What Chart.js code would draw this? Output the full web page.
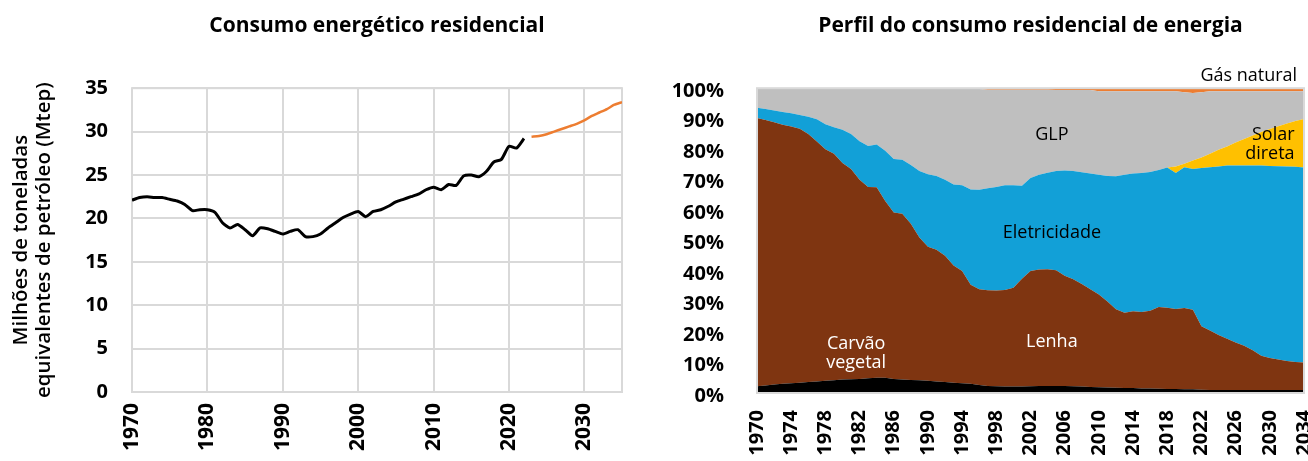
<!DOCTYPE html>
<html>
<head>
<meta charset="utf-8">
<script src="https://cdn.jsdelivr.net/npm/chart.js@4.4.1/dist/chart.umd.min.js"></script>
<style>
  html, body { margin: 0; padding: 0; background: #fff; }
  #wrap { position: relative; width: 1308px; height: 461px; }
  .box { position: absolute; top: 0; height: 461px; }
  #left { left: 0; width: 650px; }
  #right { left: 650px; width: 658px; }
</style>
</head>
<body>
<div id="wrap">
  <div class="box" id="left"><canvas id="consumo" width="650" height="461"></canvas></div>
  <div class="box" id="right"><canvas id="perfil" width="658" height="461"></canvas></div>
</div>
<script>
// Consumo energético residencial (Mtep)
var histYears = [1970, 1971, 1972, 1973, 1974, 1975, 1976, 1977, 1978, 1979,
  1980, 1981, 1982, 1983, 1984, 1985, 1986, 1987, 1988, 1989,
  1990, 1991, 1992, 1993, 1994, 1995, 1996, 1997, 1998, 1999,
  2000, 2001, 2002, 2003, 2004, 2005, 2006, 2007, 2008, 2009,
  2010, 2011, 2012, 2013, 2014, 2015, 2016, 2017, 2018, 2019,
  2020, 2021, 2022];
var histMtep = [22.1, 22.4, 22.5, 22.4, 22.4, 22.2, 22.0, 21.6, 20.9, 21.0,
  21.0, 20.7, 19.5, 18.9, 19.3, 18.7, 18.0, 18.9, 18.8, 18.5,
  18.2, 18.5, 18.7, 17.9, 17.9, 18.2, 18.9, 19.5, 20.1, 20.5,
  20.8, 20.2, 20.8, 21.0, 21.4, 21.9, 22.2, 22.5, 22.8, 23.3,
  23.6, 23.3, 23.9, 23.8, 24.9, 25.0, 24.8, 25.4, 26.5, 26.8,
  28.3, 28.1, 29.2];
var projYears = [2023, 2024, 2025, 2026, 2027, 2028, 2029, 2030, 2031, 2032, 2033, 2034, 2035];
var projMtep = [29.4, 29.5, 29.7, 30.0, 30.3, 30.6, 30.9, 31.3, 31.8, 32.2, 32.6, 33.1, 33.4];

// Perfil do consumo residencial de energia (% do total)
var perfilYears = [1970, 1971, 1972, 1973, 1974, 1975, 1976, 1977, 1978, 1979,
  1980, 1981, 1982, 1983, 1984, 1985, 1986, 1987, 1988, 1989,
  1990, 1991, 1992, 1993, 1994, 1995, 1996, 1997, 1998, 1999,
  2000, 2001, 2002, 2003, 2004, 2005, 2006, 2007, 2008, 2009,
  2010, 2011, 2012, 2013, 2014, 2015, 2016, 2017, 2018, 2019,
  2020, 2021, 2022, 2023, 2024, 2025, 2026, 2027, 2028, 2029,
  2030, 2031, 2032, 2033, 2034];
var carvaoVegetal = [2.2, 2.5, 2.8, 3.0, 3.2, 3.4, 3.6, 3.8, 4.0, 4.2,
  4.4, 4.5, 4.6, 4.8, 5.0, 5.0, 4.6, 4.4, 4.3, 4.2,
  4.0, 3.8, 3.6, 3.4, 3.2, 3.0, 2.6, 2.3, 2.2, 2.1,
  2.1, 2.1, 2.2, 2.3, 2.3, 2.3, 2.3, 2.2, 2.1, 2.0,
  1.9, 1.8, 1.7, 1.6, 1.6, 1.5, 1.5, 1.4, 1.3, 1.3,
  1.2, 1.2, 1.1, 1.0, 1.0, 1.0, 1.0, 1.0, 1.0, 1.0,
  1.0, 1.0, 1.0, 1.0, 1.0];
var lenha = [88.0, 87.1, 86.0, 85.0, 84.2, 83.3, 81.4, 78.7, 76.0, 74.3,
  71.1, 69.0, 65.4, 62.8, 62.5, 58.0, 54.6, 54.4, 51.2, 46.8,
  44.0, 43.2, 41.4, 38.4, 36.8, 32.5, 31.4, 31.4, 31.4, 31.7,
  32.4, 35.4, 37.8, 38.2, 38.3, 38.0, 36.2, 35.1, 33.7, 32.0,
  30.4, 28.2, 25.8, 24.7, 25.2, 25.1, 25.5, 26.8, 26.7, 26.3,
  26.7, 26.1, 20.8, 19.5, 18.0, 16.8, 15.6, 14.5, 13.0, 11.2,
  10.5, 10.0, 9.5, 9.2, 9.0];
var eletricidade = [3.4, 3.6, 3.9, 4.2, 4.4, 4.5, 5.6, 7.3, 8.2, 8.7,
  10.9, 11.5, 12.6, 13.4, 14.0, 16.5, 17.6, 17.7, 19.3, 21.8,
  23.8, 24.2, 25.0, 26.6, 28.2, 31.3, 32.7, 33.5, 34.0, 34.4,
  33.7, 30.5, 30.5, 31.1, 31.7, 32.5, 34.5, 35.5, 36.6, 38.0,
  39.3, 41.2, 43.6, 45.3, 45.2, 45.6, 45.5, 45.0, 46.0, 44.6,
  46.2, 46.2, 51.9, 53.6, 55.3, 56.8, 58.0, 59.1, 60.6, 62.4,
  63.0, 63.4, 63.8, 64.0, 64.0];
var solarDireta = [0, 0, 0, 0, 0, 0, 0, 0, 0, 0,
  0, 0, 0, 0, 0, 0, 0, 0, 0, 0,
  0, 0, 0, 0, 0, 0, 0, 0, 0, 0,
  0, 0, 0, 0, 0, 0, 0, 0, 0, 0,
  0, 0, 0, 0, 0, 0, 0, 0, 0, 2.1,
  1.1, 2.8, 3.5, 4.4, 5.5, 6.3, 7.6, 8.7, 9.9, 11.0,
  12.1, 13.1, 14.1, 15.0, 15.9];
var glp = [6.4, 6.8, 7.3, 7.8, 8.2, 8.8, 9.4, 10.2, 11.8, 12.8,
  13.6, 15.0, 17.4, 19.0, 18.5, 20.5, 23.2, 23.5, 25.2, 27.2,
  28.2, 28.8, 30.0, 31.6, 31.8, 33.2, 33.0, 32.3, 31.9, 31.3,
  31.3, 31.5, 29.0, 27.9, 27.2, 26.6, 26.4, 26.6, 27.0, 27.4,
  27.4, 27.8, 27.9, 27.4, 27.0, 26.8, 26.5, 25.8, 25.0, 24.7,
  23.5, 22.1, 21.4, 20.5, 19.2, 18.1, 16.8, 15.7, 14.5, 13.4,
  12.4, 11.5, 10.6, 9.8, 9.1];
var gasNatural = [0, 0, 0, 0, 0, 0, 0, 0, 0, 0,
  0, 0, 0, 0, 0, 0, 0, 0, 0, 0,
  0, 0, 0, 0, 0, 0, 0.3, 0.5, 0.5, 0.5,
  0.5, 0.5, 0.5, 0.5, 0.5, 0.6, 0.6, 0.6, 0.6, 0.6,
  1.0, 1.0, 1.0, 1.0, 1.0, 1.0, 1.0, 1.0, 1.0, 1.0,
  1.3, 1.6, 1.3, 1.0, 1.0, 1.0, 1.0, 1.0, 1.0, 1.0,
  1.0, 1.0, 1.0, 1.0, 1.0];

var FONT = "'Open Sans', 'Noto Sans', sans-serif";
var GRID = '#d9d9d9';

function points(xs, ys) {
  return xs.map(function (x, i) { return { x: x, y: ys[i] }; });
}

// moldura cinza em volta da área do gráfico
var plotBorder = {
  id: 'plotBorder',
  beforeDatasetsDraw: function (chart, args, opts) {
    if (opts.after) return;
    drawFrame(chart, opts);
  },
  afterDatasetsDraw: function (chart, args, opts) {
    if (!opts.after) return;
    drawFrame(chart, opts);
  }
};
function drawFrame(chart, opts) {
  var a = chart.chartArea, ctx = chart.ctx;
  ctx.save();
  ctx.strokeStyle = opts.color || GRID;
  ctx.lineWidth = opts.width || 2;
  ctx.strokeRect(a.left, a.top, a.right - a.left, a.bottom - a.top);
  ctx.restore();
}

// rótulos das áreas, posicionados em coordenadas de dados
var areaLabels = [
  { text: ['Gás natural'], x: 2033.2, y: 103.9, align: 'right', color: '#000' },
  { text: ['GLP'], x: 2004.5, y: 84.6, align: 'center', color: '#000' },
  { text: ['Solar', 'direta'], x: 2032.9, y: 84.7, align: 'right', color: '#000' },
  { text: ['Eletricidade'], x: 2004.5, y: 52.6, align: 'center', color: '#000' },
  { text: ['Lenha'], x: 2004.5, y: 16.7, align: 'center', color: '#fff' },
  { text: ['Carvão', 'vegetal'], x: 1981.6, y: 16.0, align: 'center', color: '#fff' }
];
var labelPlugin = {
  id: 'areaText',
  afterDatasetsDraw: function (chart) {
    var ctx = chart.ctx, xs = chart.scales.x, ys = chart.scales.y;
    ctx.save();
    ctx.font = '18px ' + FONT;
    ctx.textBaseline = 'middle';
    areaLabels.forEach(function (l) {
      ctx.fillStyle = l.color;
      ctx.textAlign = l.align;
      var px = xs.getPixelForValue(l.x), py = ys.getPixelForValue(l.y);
      l.text.forEach(function (t, i) { ctx.fillText(t, px, py + i * 19); });
    });
    ctx.restore();
  }
};

function fixX(h) {
  return function (s) { s.height = h; s.paddingLeft = 0; s.paddingRight = 0; };
}
function fixY(w) {
  return function (s) { s.width = w; s.paddingTop = 0; s.paddingBottom = 0; };
}

new Chart(document.getElementById('consumo'), {
  type: 'line',
  data: {
    datasets: [{
      label: 'Histórico',
      data: points(histYears, histMtep),
      borderColor: '#000000',
      borderWidth: 3,
      pointRadius: 0,
      tension: 0.2
    }, {
      label: 'Projeção',
      data: points(projYears, projMtep),
      borderColor: '#ED7D31',
      borderWidth: 2.5,
      pointRadius: 0,
      tension: 0.2
    }]
  },
  options: {
    responsive: false,
    animation: false,
    layout: { padding: { left: 0, right: 28, top: 0, bottom: 0 } },
    plugins: {
      legend: { display: false },
      tooltip: { enabled: false },
      title: {
        display: true,
        text: 'Consumo energético residencial',
        fullSize: false,
        color: '#000',
        font: { family: FONT, size: 21, weight: 'bold', lineHeight: 1.2 },
        padding: { top: 13, bottom: 50 }
      },
      plotBorder: { color: GRID, width: 2 }
    },
    scales: {
      x: {
        type: 'linear',
        min: 1970,
        max: 2035,
        afterFit: fixX(69),
        grid: { color: GRID, lineWidth: 2, drawTicks: false },
        border: { display: false },
        ticks: {
          stepSize: 10,
          includeBounds: false,
          autoSkip: false,
          minRotation: 90,
          maxRotation: 90,
          padding: 11,
          color: '#000',
          font: { family: FONT, size: 21, weight: 'bold' },
          callback: function (v) { return String(v); }
        }
      },
      y: {
        min: 0,
        max: 35,
        afterFit: fixY(132),
        grid: { color: GRID, lineWidth: 2, drawTicks: false },
        border: { display: false },
        ticks: {
          stepSize: 5,
          padding: 24,
          color: '#000',
          font: { family: FONT, size: 20, weight: 'bold' }
        },
        title: {
          display: true,
          text: ['Milhões de toneladas', 'equivalentes de petróleo (Mtep)'],
          color: '#000',
          font: { family: FONT, size: 20.5, weight: '600', lineHeight: 1.12 },
          padding: { top: 10, bottom: 0 }
        }
      }
    }
  },
  plugins: [plotBorder]
});

function area(label, values, color, fill) {
  return {
    label: label,
    data: points(perfilYears, values),
    backgroundColor: color,
    borderColor: color,
    borderWidth: 0,
    pointRadius: 0,
    tension: 0,
    fill: fill
  };
}

new Chart(document.getElementById('perfil'), {
  type: 'line',
  data: {
    datasets: [
      area('Carvão vegetal', carvaoVegetal, '#000000', 'origin'),
      area('Lenha', lenha, '#7F3511', '-1'),
      area('Eletricidade', eletricidade, '#12A0D7', '-1'),
      area('Solar direta', solarDireta, '#FFC000', '-1'),
      area('GLP', glp, '#BFBFBF', '-1'),
      area('Gás natural', gasNatural, '#ED7D31', '-1')
    ]
  },
  options: {
    responsive: false,
    animation: false,
    layout: { padding: { left: 0, right: 4, top: 0, bottom: 0 } },
    plugins: {
      legend: { display: false },
      tooltip: { enabled: false },
      title: {
        display: true,
        text: 'Perfil do consumo residencial de energia',
        fullSize: false,
        color: '#000',
        font: { family: FONT, size: 21, weight: 'bold', lineHeight: 1.2 },
        padding: { top: 13, bottom: 50 }
      },
      plotBorder: { color: GRID, width: 2, after: true }
    },
    scales: {
      x: {
        type: 'linear',
        min: 1970,
        max: 2034,
        afterFit: fixX(68),
        grid: { display: false },
        border: { display: false },
        ticks: {
          stepSize: 4,
          autoSkip: false,
          minRotation: 90,
          maxRotation: 90,
          padding: 9,
          color: '#000',
          font: { family: FONT, size: 20, weight: 'bold' },
          callback: function (v) { return String(v); }
        }
      },
      y: {
        stacked: true,
        min: 0,
        max: 100,
        afterFit: fixY(107),
        grid: { display: false },
        border: { display: false },
        ticks: {
          stepSize: 10,
          padding: 25,
          labelOffset: 3,
          color: '#000',
          font: { family: FONT, size: 20, weight: 'bold' },
          callback: function (v) { return v + '%'; }
        }
      }
    }
  },
  plugins: [plotBorder, labelPlugin]
});
</script>
</body>
</html>
